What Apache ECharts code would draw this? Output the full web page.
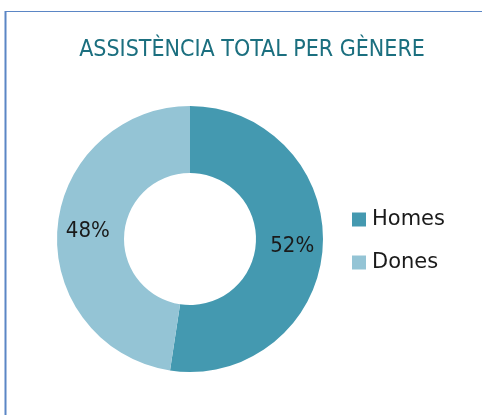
<!DOCTYPE html>
<html>
<head>
<meta charset="utf-8">
<script src="https://cdn.jsdelivr.net/npm/echarts@6/dist/echarts.min.js"></script>
<style>
html,body{margin:0;padding:0;background:#fff;}
#c{width:482px;height:415px;}
</style>
</head>
<body>
<div id="c"></div>
<script>
const titleText = 'ASSISTÈNCIA TOTAL PER GÈNERE';
const categories = ['Homes', 'Dones'];
const values = [52.4, 47.6];
const colors = ['#4499b0', '#94c4d5'];

const FONT = '"DejaVu Sans Condensed", "Noto Sans", sans-serif';
const FONT_L = '"DejaVu Sans", "Noto Sans", sans-serif';
const chart = echarts.init(document.getElementById('c'), null, {renderer: 'canvas'});
chart.setOption({
  animation: false,
  backgroundColor: '#ffffff',
  color: colors,
  title: {
    text: titleText,
    left: 247,
    textAlign: 'center',
    top: 34,
    textStyle: {fontFamily: FONT, fontSize: 23, fontWeight: 'normal', color: '#1b6f7f'}
  },
  legend: {
    orient: 'vertical',
    left: 347,
    top: 204,
    itemWidth: 14,
    itemHeight: 14,
    itemGap: 22,
    icon: 'rect',
    data: categories,
    textStyle: {fontFamily: FONT_L, fontSize: 21, color: '#1a1a1a', padding: [0, 0, 0, 1]}
  },
  graphic: [
    {type: 'line', shape: {x1: 5, y1: 11.5, x2: 482, y2: 11.5}, style: {stroke: '#5b86c5', lineWidth: 1}},
    {type: 'line', shape: {x1: 5.5, y1: 11, x2: 5.5, y2: 415}, style: {stroke: '#5b86c5', lineWidth: 2}}
  ],
  series: [{
    type: 'pie',
    center: [190, 239],
    radius: [66, 133],
    startAngle: 90,
    clockwise: true,
    avoidLabelOverlap: false,
    label: {
      show: true,
      position: 'inside',
      fontFamily: FONT,
      fontSize: 22,
      color: '#1a1a1a',
      padding: [8, 0, 0, 0],
      formatter: p => Math.round(p.percent) + '%'
    },
    labelLine: {show: false},
    emphasis: {disabled: true},
    itemStyle: {borderWidth: 0},
    data: categories.map((n, i) => ({name: n, value: values[i]}))
  }]
});
</script>
</body>
</html>
